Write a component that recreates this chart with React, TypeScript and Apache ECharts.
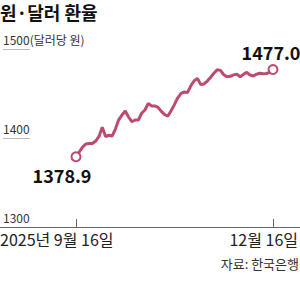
import React, { useEffect, useRef } from "react";
import * as echarts from "echarts";

const titleText = "원·달러 환율";
const unitText = "(달러당 원)";
const sourceText = "자료: 한국은행";
const xTickLabels = ["2025년 9월 16일", "12월 16일"];
const yTicks = [1300, 1400, 1500];

const dates = [
  "09-16", "09-17", "09-18", "09-19", "09-22", "09-23", "09-24", "09-25", "09-26", "09-29", "09-30",
  "10-01", "10-02", "10-10", "10-13", "10-14", "10-15", "10-16", "10-17", "10-20", "10-21", "10-22",
  "10-23", "10-24", "10-27", "10-28", "10-29", "10-30", "10-31",
  "11-03", "11-04", "11-05", "11-06", "11-07", "11-10", "11-11", "11-12", "11-13", "11-14", "11-17",
  "11-18", "11-19", "11-20", "11-21", "11-24", "11-25", "11-26", "11-27", "11-28",
  "12-01", "12-02", "12-03", "12-04", "12-05", "12-08", "12-09", "12-10", "12-11", "12-12", "12-15", "12-16",
];

const rates = [
  1378.9, 1384.3, 1389.7, 1393.3, 1393.9, 1393.8, 1396.6, 1401.7, 1412.0, 1401.7, 1403.1,
  1402.2, 1410.1, 1420.4, 1425.8, 1430.3, 1423.6, 1418.3, 1420.2, 1420.2, 1427.8, 1431.5,
  1439.0, 1436.0, 1436.0, 1434.3, 1429.9, 1426.3, 1424.7, 1430.8, 1437.8, 1445.2, 1450.2,
  1451.7, 1451.2, 1458.8, 1464.3, 1467.0, 1460.0, 1460.7, 1464.0, 1468.3, 1472.7, 1476.7,
  1476.0, 1471.0, 1468.9, 1469.3, 1470.9, 1471.7, 1468.8, 1471.5, 1473.8, 1470.8, 1469.7,
  1471.7, 1472.7, 1472.1, 1472.5, 1473.8, 1477.0,
];

const LINE = "#bd4a73";
const FONT = "'Noto Sans CJK KR', 'Noto Sans', sans-serif";

export default function App() {
  const ref = useRef<HTMLDivElement>(null);
  useEffect(() => {
    document.body.style.margin = "0";
    if (!ref.current) return;
    const chart = echarts.init(ref.current, undefined, { renderer: "svg" });
    const last = rates.length - 1;
    const yMin = yTicks[0];
    const yMax = yTicks[yTicks.length - 1];
    const yInt = yTicks[1] - yTicks[0];
    const labelStyle = {
      fontFamily: FONT,
      fontSize: 18,
      fontWeight: "bold" as const,
      color: "#111",
      letterSpacing: -1.4,
    };
    const seriesData = rates.map((v, i) => {
      if (i === 0) {
        return {
          value: v,
          label: { show: true, position: "bottom", offset: [-14, -1], formatter: v.toFixed(1), ...labelStyle },
        };
      }
      if (i === last) {
        return {
          value: v,
          label: { show: true, position: "top", offset: [-2, 2], formatter: v.toFixed(1), ...labelStyle },
        };
      }
      return v;
    });
    chart.setOption({
      animation: false,
      title: {
        text: titleText,
        left: 0,
        top: 2,
        padding: 0,
        textStyle: { fontFamily: FONT, fontSize: 18, fontWeight: "bold", color: "#111", lineHeight: 20 },
      },
      grid: [
        { left: 76, right: 27, top: 49, bottom: 66 },
        { left: 0, width: 30, top: 49, bottom: 66 },
        { left: 0, right: 0, top: 49, bottom: 66 },
      ],
      xAxis: [
        {
          gridIndex: 0,
          type: "category",
          data: dates,
          boundaryGap: false,
          axisLine: { show: false },
          axisTick: {
            show: true,
            inside: true,
            length: 8,
            interval: (i: number) => i === 0 || i === last,
            lineStyle: { color: "#666", width: 1 },
          },
          axisLabel: { show: false },
          splitLine: { show: false },
        },
        { gridIndex: 1, type: "value", show: false },
        {
          gridIndex: 2,
          type: "value",
          min: 0,
          max: 1,
          axisLine: { show: true, lineStyle: { color: "#666", width: 1 } },
          axisTick: { show: false },
          axisLabel: { show: false },
          splitLine: { show: false },
        },
      ],
      yAxis: [
        { gridIndex: 0, type: "value", min: yMin, max: yMax, interval: yInt, show: false },
        {
          gridIndex: 1,
          type: "value",
          min: yMin,
          max: yMax,
          interval: yInt,
          axisLine: { show: false },
          axisTick: { show: false },
          splitLine: { show: true, lineStyle: { color: "#bbb", width: 1 } },
          axisLabel: {
            inside: true,
            margin: 0,
            align: "left",
            verticalAlign: "bottom",
            lineHeight: 14,
            padding: [0, 0, 3, 0],
            fontFamily: FONT,
            fontSize: 12,
            color: "#333",
            formatter: (v: number) => (v === yMax ? `${v}${unitText}` : `${v}`),
          },
        },
        { gridIndex: 2, type: "value", show: false },
      ],
      series: [
        {
          type: "line",
          xAxisIndex: 0,
          yAxisIndex: 0,
          data: seriesData,
          symbol: (_v: any, p: any) => (p.dataIndex === 0 || p.dataIndex === last ? "circle" : "none"),
          symbolSize: 9,
          showAllSymbol: true,
          itemStyle: { color: "#fff", borderColor: LINE, borderWidth: 2 },
          lineStyle: { color: LINE, width: 3 },
          z: 5,
        },
      ],
      graphic: [
        {
          type: "text",
          left: 0,
          top: 231,
          style: { text: xTickLabels[0], fontFamily: FONT, fontSize: 16, fill: "#222" },
        },
        {
          type: "text",
          right: 2,
          top: 231,
          style: { text: xTickLabels[1], fontFamily: FONT, fontSize: 16, fill: "#222" },
        },
        {
          type: "text",
          right: 1,
          top: 257,
          style: { text: sourceText, fontFamily: FONT, fontSize: 13, fill: "#333" },
        },
      ],
    });
    return () => chart.dispose();
  }, []);
  return <div ref={ref} style={{ width: 300, height: 293 }} />;
}
